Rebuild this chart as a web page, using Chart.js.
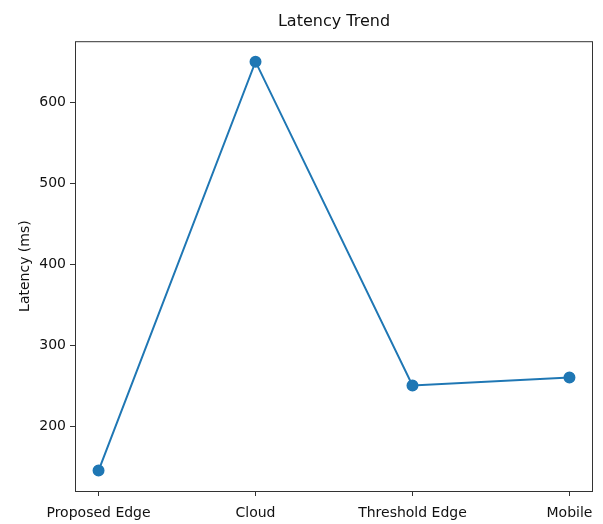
<!DOCTYPE html>
<html>
<head>
<meta charset="utf-8">
<script src="https://cdn.jsdelivr.net/npm/chart.js@4/dist/chart.umd.min.js"></script>
<style>
  html, body { margin: 0; padding: 0; background: #fff; }
  #wrap { width: 603px; height: 524px; }
</style>
</head>
<body>
<div id="wrap"><canvas id="latencyChart" width="603" height="524"></canvas></div>
<script>
// data
const categories = ["Proposed Edge", "Cloud", "Threshold Edge", "Mobile"];
const latencyMs = [145, 650, 250, 260];
const yTicks = [200, 300, 400, 500, 600];

const FONT = "'DejaVu Sans', sans-serif";
const BLUE = "#1f77b4";

// box around the plot area, like matplotlib spines
const frame = {
    id: "frame",
    afterDraw(chart) {
        const { ctx, chartArea: a } = chart;
        ctx.save();
        ctx.strokeStyle = "#333";
        ctx.lineWidth = 1;
        ctx.strokeRect(a.left + 0.5, a.top + 0.5, a.right - a.left - 1, a.bottom - a.top);
        ctx.restore();
    },
};

const points = latencyMs.map((v, i) => ({ x: i, y: v }));

new Chart(document.getElementById("latencyChart").getContext("2d"), {
    type: "line",
    data: {
        datasets: [{
            data: points,
            borderColor: BLUE,
            backgroundColor: BLUE,
            borderWidth: 2,
            pointRadius: 5,
            pointHoverRadius: 5,
            tension: 0,
            fill: false,
        }],
    },
    options: {
        responsive: false,
        animation: false,
        layout: { padding: { left: 0, right: 10, top: 0, bottom: 0 } },
        plugins: {
            legend: { display: false },
            tooltip: { enabled: false },
            title: {
                display: true,
                fullSize: false, // centre over the plot, not the canvas
                text: "Latency Trend",
                color: "#111",
                font: { family: FONT, size: 16, weight: "normal", lineHeight: 1.2 },
                padding: { top: 12, bottom: 10 },
            },
        },
        scales: {
            x: {
                type: "linear",
                min: -0.15,
                max: 3.15,
                afterBuildTicks: (s) => { s.ticks = categories.map((_, i) => ({ value: i })); },
                afterFit: (s) => { s.height = 33; },
                ticks: {
                    callback: (v) => categories[v],
                    color: "#111",
                    font: { family: FONT, size: 14 },
                    padding: 9,
                    maxRotation: 0,
                },
                grid: { drawOnChartArea: false, drawTicks: true, tickLength: 5, color: "#333" },
                border: { display: false },
            },
            y: {
                min: 119.75,
                max: 675.25,
                afterBuildTicks: (s) => { s.ticks = yTicks.map((v) => ({ value: v })); },
                afterFit: (s) => { s.width = 75; },
                ticks: {
                    color: "#111",
                    font: { family: FONT, size: 14 },
                    padding: 4,
                },
                grid: { drawOnChartArea: false, drawTicks: true, tickLength: 5, color: "#333" },
                border: { display: false },
                title: {
                    display: true,
                    text: "Latency (ms)",
                    color: "#111",
                    font: { family: FONT, size: 14 },
                    padding: { top: 17, bottom: 0 },
                },
            },
        },
    },
    plugins: [frame],
});
</script>
</body>
</html>
